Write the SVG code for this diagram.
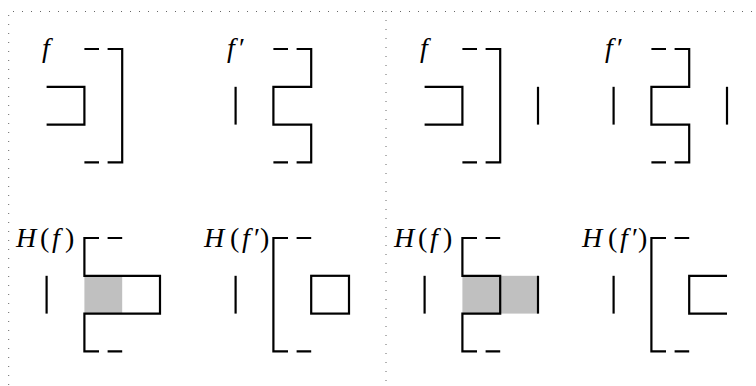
<svg xmlns="http://www.w3.org/2000/svg" width="756" height="386" viewBox="0 0 756 386">
<style>
.s{fill:none;stroke:#000;stroke-width:2.2;stroke-linejoin:miter;stroke-linecap:butt}
.g{fill:#c0c0c0;stroke:none}
.d{fill:none;stroke:#666;stroke-width:1;stroke-dasharray:1 8}
.t{font-family:"Liberation Serif","Times New Roman",serif;font-size:28px;fill:#000}
.i{font-style:italic}
</style>
<rect width="756" height="386" fill="#fff"/>
<g id="frame">
<path class="d" d="M13 11.5 H752"/>
<path class="d" d="M8.7 15 V386"/>
<path class="d" d="M386 11 V386"/>
</g>
<g id="connectors"/>
<!-- left half -->
<g id="L-f">
<text class="t" x="42" y="57"><tspan class="i">f</tspan></text>
<path class="s" d="M46.6 86.8 H84.4 V124.6 H46.6"/>
<path class="s" d="M107.6 49 H122.2 V162.4 H107.6"/>
<path class="s" d="M84.4 49 H99 M84.4 162.4 H99"/>
</g>
<g id="L-fp">
<text class="t" x="227" y="57"><tspan class="i">f</tspan><tspan x="239">′</tspan></text>
<path class="s" d="M235.6 86.8 V124.6"/>
<path class="s" d="M296.6 49 H311.2 V86.8 H273.4 V124.6 H311.2 V162.4 H296.6"/>
<path class="s" d="M273.4 49 H288 M273.4 162.4 H288"/>
</g>
<g id="L-Hf">
<text class="t" y="247"><tspan class="i" x="16">H</tspan><tspan x="40">(</tspan><tspan class="i" x="52">f</tspan><tspan x="65">)</tspan></text>
<rect class="g" x="84.4" y="275.8" width="37.8" height="37.8"/>
<path class="s" d="M46.6 275.8 V313.6"/>
<path class="s" d="M99 238 H84.4 V275.8 H160 V313.6 H84.4 V351.4 H99"/>
<path class="s" d="M107.6 238 H122.2 M107.6 351.4 H122.2"/>
</g>
<g id="L-Hfp">
<text class="t" y="247"><tspan class="i" x="204">H</tspan><tspan x="230">(</tspan><tspan class="i" x="242">f</tspan><tspan x="254">′</tspan><tspan x="260">)</tspan></text>
<path class="s" d="M235.6 275.8 V313.6"/>
<path class="s" d="M288 238 H273.4 V351.4 H288"/>
<path class="s" d="M296.6 238 H311.2 M296.6 351.4 H311.2"/>
<rect class="s" x="311.2" y="275.8" width="37.8" height="37.8"/>
</g>
<!-- right half -->
<g id="R-f">
<text class="t" x="420" y="57"><tspan class="i">f</tspan></text>
<path class="s" d="M424.6 86.8 H462.4 V124.6 H424.6"/>
<path class="s" d="M485.6 49 H500.2 V162.4 H485.6"/>
<path class="s" d="M462.4 49 H477 M462.4 162.4 H477"/>
<path class="s" d="M538 86.8 V124.6"/>
</g>
<g id="R-fp">
<text class="t" x="605" y="57"><tspan class="i">f</tspan><tspan x="617">′</tspan></text>
<path class="s" d="M613.6 86.8 V124.6"/>
<path class="s" d="M674.6 49 H689.2 V86.8 H651.4 V124.6 H689.2 V162.4 H674.6"/>
<path class="s" d="M651.4 49 H666 M651.4 162.4 H666"/>
<path class="s" d="M727 86.8 V124.6"/>
</g>
<g id="R-Hf">
<text class="t" y="247"><tspan class="i" x="394">H</tspan><tspan x="418">(</tspan><tspan class="i" x="430">f</tspan><tspan x="443">)</tspan></text>
<rect class="g" x="462.4" y="275.8" width="75.6" height="37.8"/>
<path class="s" d="M424.6 275.8 V313.6"/>
<path class="s" d="M477 238 H462.4 V275.8 H500.2 V313.6 H462.4 V351.4 H477"/>
<path class="s" d="M485.6 238 H500.2 M485.6 351.4 H500.2"/>
<path class="s" d="M538 275.8 V313.6"/>
</g>
<g id="R-Hfp">
<text class="t" y="247"><tspan class="i" x="582">H</tspan><tspan x="608">(</tspan><tspan class="i" x="620">f</tspan><tspan x="632">′</tspan><tspan x="638">)</tspan></text>
<path class="s" d="M613.6 275.8 V313.6"/>
<path class="s" d="M666 238 H651.4 V351.4 H666"/>
<path class="s" d="M674.6 238 H689.2 M674.6 351.4 H689.2"/>
<path class="s" d="M727 275.8 H689.2 V313.6 H727"/>
</g>
</svg>
